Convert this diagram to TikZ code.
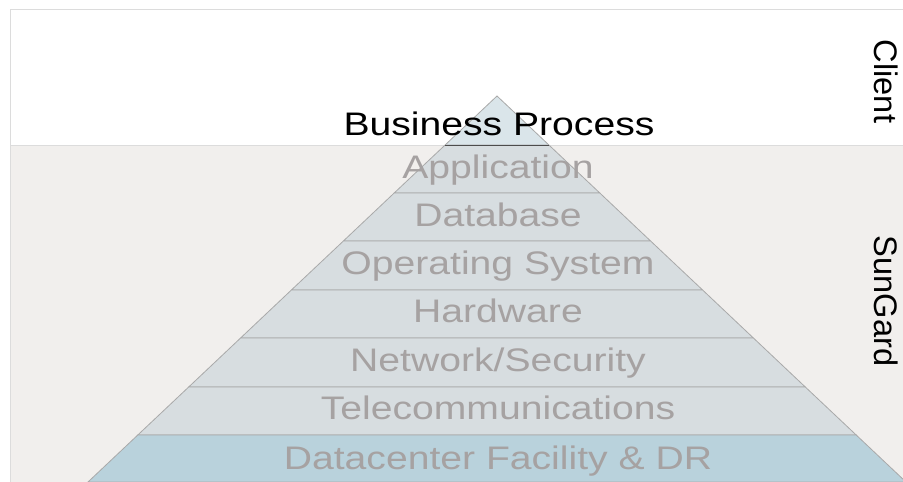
\documentclass[tikz,border=0pt]{standalone}
\usepackage{fontspec}
\usepackage{graphicx}
\setmainfont{Liberation Sans}
\definecolor{bandgrey}{HTML}{F1EFED}
\definecolor{framegrey}{HTML}{DCDCDC}
\definecolor{tierfill}{HTML}{D7DDE0}
\definecolor{topfill}{HTML}{DAE5EA}
\definecolor{basefill}{HTML}{B9D2DC}
\definecolor{tierline}{HTML}{A9A9A9}
\definecolor{tiertext}{HTML}{A6A2A2}
\tikzset{
  tier/.style={fill=tierfill, draw=tierline, line width=0.8pt},
  tiertxt/.style={anchor=base, inner sep=0pt, text=tiertext, font=\fontsize{32.6}{36}\selectfont},
  sidetxt/.style={anchor=base, inner sep=0pt, text=black, rotate=-90, font=\fontsize{32.6}{36}\selectfont}
}
\newcommand{\wide}[1]{\scalebox{1.2}[1]{#1}}
\begin{document}
\begin{tikzpicture}[x=1pt,y=-1pt]
\clip (0,0) rectangle (903,482);
\fill[white] (0,0) rectangle (903,482);
\fill[bandgrey] (10.5,145) rectangle (903,482);
\draw[framegrey, line width=1pt] (10.5,482) -- (10.5,9.5) -- (903,9.5);
\draw[framegrey, line width=1pt] (10.5,145) -- (903,145);
% tiers
\coordinate (apex) at (497,96);
\fill[topfill] (apex) -- (548.9,145) -- (445.1,145) -- cycle;
\draw[tier] (445.1,145) -- (548.9,145) -- (599.8,193) -- (394.2,193) -- cycle;
\draw[tier] (394.2,193) -- (599.8,193) -- (650.6,241) -- (343.4,241) -- cycle;
\draw[tier] (343.4,241) -- (650.6,241) -- (702.6,290) -- (291.4,290) -- cycle;
\draw[tier] (291.4,290) -- (702.6,290) -- (753.4,338) -- (240.6,338) -- cycle;
\draw[tier] (240.6,338) -- (753.4,338) -- (805.3,387) -- (188.7,387) -- cycle;
\draw[tier] (188.7,387) -- (805.3,387) -- (856.2,435) -- (137.8,435) -- cycle;
\draw[tier, fill=basefill] (137.8,435) -- (856.2,435) -- (906,482) -- (88,482) -- cycle;
\draw[tierline, line width=0.8pt] (445.1,145) -- (apex) -- (548.9,145);
\draw[black!70, line width=0.8pt] (445.1,145) -- (548.9,145);
% texts
\node[tiertxt, text=black] (bp) at (499,135.5) {\wide{Business Process}};
\node[tiertxt] (app) at (498,178.5) {\wide{Application}};
\node[tiertxt] (db) at (498,226) {\wide{Database}};
\node[tiertxt] (os) at (498,274) {\wide{Operating System}};
\node[tiertxt] (hw) at (498,322.5) {\wide{Hardware}};
\node[tiertxt] (ns) at (498,371) {\wide{Network/Security}};
\node[tiertxt] (tc) at (498,419.5) {\wide{Telecommunications}};
\node[tiertxt] (dc) at (498,469) {\wide{Datacenter Facility \& DR}};
\node[sidetxt] (client) at (874,81.5) {Client};
\node[sidetxt] (sungard) at (874,301) {SunGard};
\end{tikzpicture}
\end{document}
